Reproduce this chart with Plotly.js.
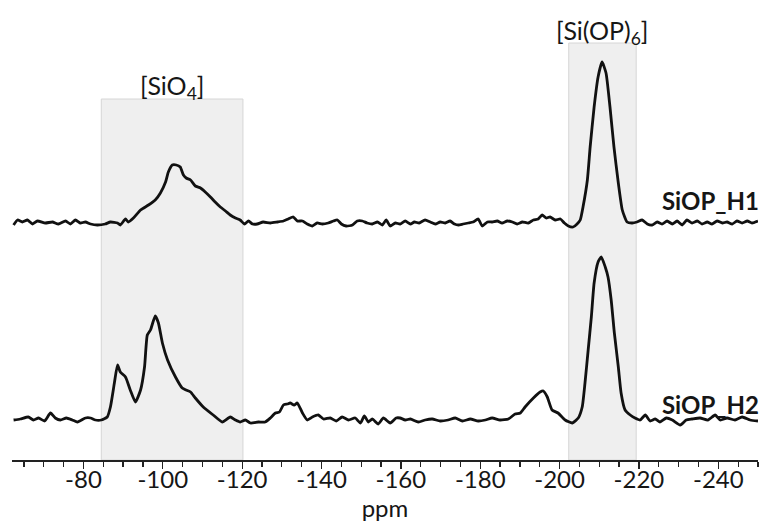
<!DOCTYPE html>
<html>
<head>
<meta charset="utf-8">
<script src="https://cdn.plot.ly/plotly-3.0.1.min.js"></script>
<style>html,body{margin:0;padding:0;background:#fff;}#chart{width:763px;height:528px;}</style>
</head>
<body>
<div id="chart"></div>
<script>
// Chemical shift (ppm) and intensity (arb. units, relative to each trace baseline)
const h1Ppm = [-62.4,-63.4,-64.6,-65.9,-67.2,-68.4,-70.4,-72.2,-73.7,-75.5,-76.7,-78.0,-79.2,-80.5,-81.8,-83.5,-85.5,-86.8,-88.6,-89.3,-90.6,-91.3,-92.6,-94.4,-96.4,-98.1,-99.4,-100.7,-101.4,-102.4,-103.4,-104.4,-105.2,-105.9,-107.0,-108.2,-109.5,-110.7,-112.0,-113.2,-114.5,-115.8,-117.0,-118.3,-119.5,-120.6,-121.6,-122.6,-123.8,-125.3,-127.1,-128.9,-130.4,-131.6,-132.9,-133.9,-135.2,-136.4,-137.7,-138.9,-140.2,-141.7,-143.0,-144.0,-145.0,-146.2,-147.8,-149.0,-150.3,-151.5,-152.8,-154.1,-155.3,-156.3,-157.3,-158.6,-159.8,-161.1,-162.4,-163.4,-164.6,-166.1,-167.4,-168.7,-169.9,-171.2,-172.4,-173.5,-174.5,-175.7,-177.0,-178.2,-179.5,-180.5,-181.8,-183.0,-184.3,-185.5,-186.8,-188.1,-189.3,-190.6,-192.1,-193.4,-194.6,-195.6,-196.6,-197.6,-198.9,-200.2,-201.2,-202.2,-203.4,-204.4,-205.2,-205.9,-207.0,-207.7,-208.7,-209.7,-210.7,-211.7,-212.7,-213.7,-214.8,-215.8,-217.0,-218.3,-219.5,-220.8,-222.1,-223.3,-224.6,-225.8,-227.1,-228.4,-229.6,-230.9,-232.1,-233.4,-234.7,-235.9,-237.2,-238.4,-239.7,-241.0,-242.2,-243.5,-244.7,-246.0,-247.3,-248.5,-250.0];
const h1Int = [-2,3,1,3,-1,2,0,1,-1,2,-1,3,0,1,-1,-2,-1,1,0,-2,4,1,5,13,18,23,30,41,51,58,58,56,48,45,43,37,35,31,26,21,16,12,8,5,3,-1,2,-1,-1,1,0,1,2,4,6,2,2,-1,-3,0,-1,0,2,3,-1,-3,-2,2,2,0,-1,1,-2,3,-3,0,-1,2,-1,1,0,3,1,-1,1,0,2,-1,-2,-1,0,1,4,-3,1,1,2,0,2,1,-1,1,0,3,4,8,5,6,3,4,0,-3,-4,-1,3,16,43,76,116,146,161,150,116,76,40,13,1,0,1,3,-1,-2,1,-1,2,-1,2,-2,3,0,2,-1,1,-1,2,0,1,-1,2,0,2,0,2];

const h2Ppm = [-62.4,-64.1,-66.1,-67.4,-68.7,-70.2,-71.7,-72.9,-74.2,-75.7,-77.2,-78.5,-80.5,-81.8,-83.0,-84.5,-86.0,-86.8,-87.8,-88.6,-89.3,-90.6,-91.8,-93.1,-94.4,-95.4,-96.1,-96.9,-98.1,-98.9,-99.9,-101.2,-103.2,-104.9,-105.9,-107.0,-108.2,-110.2,-112.7,-115.0,-117.0,-118.3,-119.5,-120.8,-122.1,-124.1,-125.8,-127.1,-128.4,-129.4,-130.4,-131.4,-132.1,-133.1,-133.9,-135.2,-136.4,-137.7,-139.2,-140.5,-142.2,-143.7,-145.2,-146.8,-148.5,-149.8,-150.8,-151.8,-152.8,-154.3,-155.6,-157.3,-158.8,-159.8,-161.1,-162.4,-164.4,-166.1,-167.9,-169.9,-171.9,-173.7,-175.5,-177.5,-179.5,-181.3,-183.0,-185.0,-187.1,-188.8,-190.1,-191.3,-193.4,-195.1,-195.9,-196.9,-198.1,-199.6,-201.4,-203.2,-204.7,-205.7,-206.4,-207.2,-208.0,-208.7,-209.7,-210.5,-211.5,-212.2,-213.0,-213.8,-214.8,-215.5,-216.5,-217.8,-219.0,-220.3,-221.6,-222.8,-224.1,-225.3,-226.9,-228.4,-230.4,-231.9,-233.4,-235.4,-237.4,-239.2,-240.5,-242.2,-244.2,-246.0,-248.0,-250.0];
const h2Int = [0,1,3,0,2,-1,7,2,0,2,0,-2,2,2,0,0,3,13,37,55,48,43,30,18,30,53,85,90,104,97,77,60,43,32,30,28,22,13,5,-2,3,0,-2,0,-3,-2,-2,2,7,8,15,16,17,15,17,7,0,3,5,1,2,-1,3,0,2,-3,4,-2,1,-4,2,-3,2,2,0,1,-2,0,1,-1,0,2,-1,1,-1,0,2,0,1,6,7,13,22,28,29,23,10,7,0,-3,2,13,37,70,103,137,158,163,153,143,120,87,53,27,10,5,2,0,5,-1,1,-2,2,0,-5,0,1,2,0,5,0,2,0,3,0,-1];

const sampleNames = ["SiOP_H1", "SiOP_H2"];
const traceOffsets = [237, 40];
const regionNames = ["[SiO<sub>4</sub>]", "[Si(OP)<sub>6</sub>]"];
const regionPpm = [[-84.5, -120.2], [-202.3, -219.3]];
const regionTop = [361, 417];
const tickVals = [-80, -100, -120, -140, -160, -180, -200, -220, -240];

const spectra = [[h1Ppm, h1Int], [h2Ppm, h2Int]];
const traces = spectra.map((s, i) => ({
  x: s[0],
  y: s[1].map(v => v + traceOffsets[i]),
  type: 'scatter', mode: 'lines',
  line: {color: '#111111', width: 2.8, shape: 'spline', smoothing: 0.5},
  name: sampleNames[i], hoverinfo: 'skip'
}));

const shapes = regionPpm.map((r, i) => ({
  type: 'rect', xref: 'x', yref: 'y', layer: 'below',
  x0: r[0], x1: r[1], y0: 0, y1: regionTop[i],
  fillcolor: '#efefef', line: {color: '#d6d6d6', width: 1}
}));

const labelFont = {family: 'Lato, Open Sans, sans-serif', size: 25, color: '#161616'};
const annotations = [
  {text: regionNames[0], x: (regionPpm[0][0] + regionPpm[0][1]) / 2, y: regionTop[0] + 12, xref: 'x', yref: 'y', showarrow: false, yanchor: 'middle', font: labelFont},
  {text: regionNames[1], x: (regionPpm[1][0] + regionPpm[1][1]) / 2, y: regionTop[1] + 11, xref: 'x', yref: 'y', showarrow: false, yanchor: 'middle', font: labelFont},
  {text: '<b>' + sampleNames[0] + '</b>', x: 1.004, xanchor: 'right', y: traceOffsets[0] + 23, xref: 'paper', yref: 'y', showarrow: false, yanchor: 'middle', font: {family: 'Lato, Open Sans, sans-serif', size: 24, color: '#161616'}},
  {text: '<b>' + sampleNames[1] + '</b>', x: 1.004, xanchor: 'right', y: traceOffsets[1] + 16, xref: 'paper', yref: 'y', showarrow: false, yanchor: 'middle', font: {family: 'Lato, Open Sans, sans-serif', size: 24, color: '#161616'}}
];

const layout = {
  width: 763, height: 528,
  margin: {l: 12, r: 5, t: 20, b: 68},
  paper_bgcolor: '#ffffff', plot_bgcolor: '#ffffff',
  showlegend: false,
  xaxis: {
    range: [-62, -250], autorange: false,
    tickvals: tickVals, ticktext: tickVals.map(String),
    ticks: 'outside', ticklen: 7, tickwidth: 1.3, tickcolor: '#222',
    minor: {dtick: 5, tick0: 0, ticks: 'outside', ticklen: 5, tickwidth: 1.3, tickcolor: '#222'},
    showline: true, linecolor: '#222', linewidth: 1.6,
    showgrid: false, zeroline: false,
    ticklabelstandoff: -9,
    tickfont: {family: 'Lato, Open Sans, sans-serif', size: 24, color: '#161616'},
    title: {text: 'ppm', font: {family: 'Lato, Open Sans, sans-serif', size: 24, color: '#161616'}, standoff: 0}
  },
  yaxis: {range: [0, 440], autorange: false, visible: false, showgrid: false, zeroline: false},
  shapes: shapes,
  annotations: annotations
};

Plotly.newPlot('chart', traces, layout, {displayModeBar: false, staticPlot: true});
</script>
</body>
</html>
